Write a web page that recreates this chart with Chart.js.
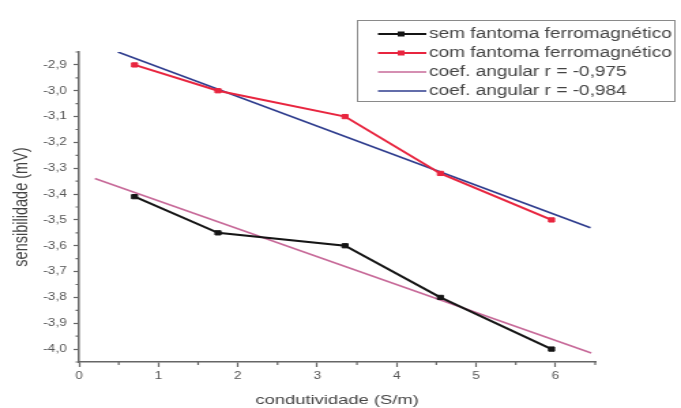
<!DOCTYPE html>
<html lang="pt">
<head>
<meta charset="utf-8">
<title>Sensibilidade x condutividade</title>
<script src="https://cdn.jsdelivr.net/npm/chart.js@4.4.0/dist/chart.umd.min.js"></script>
<style>
  html, body { margin: 0; padding: 0; background: #fff; overflow: hidden; }
  /* figure is drawn narrow and widened, like the original export */
  #wrap { width: 500px; height: 408px; transform: scaleX(1.362); transform-origin: 0 0; }
</style>
</head>
<body>
<div id="wrap"><canvas id="grafico"></canvas></div>
<script>
// condutividade dos fantomas (S/m)
const condutividade = [0.7, 1.75, 3.35, 4.55, 5.95];

// sensibilidade medida (mV)
const semFantoma = [-3.41, -3.55, -3.60, -3.80, -4.00];
const comFantoma = [-2.90, -3.00, -3.10, -3.32, -3.50];

// retas de ajuste (extremos)
const retaSemX = [0.2, 6.45];
const retaSemY = [-3.34, -4.015];
const retaComX = [0.49, 6.44];
const retaComY = [-2.85, -3.53];

const rotulos = [
    'sem fantoma ferromagnético',
    'com fantoma ferromagnético',
    'coef. angular r = -0,975',
    'coef. angular r = -0,984'
];

const xTicks = [0, 1, 2, 3, 4, 5, 6];
const xMinor = [0.5, 1.5, 2.5, 3.5, 4.5, 5.5, 6.5];
const yTicks = [-4.0, -3.9, -3.8, -3.7, -3.6, -3.5, -3.4, -3.3, -3.2, -3.1, -3.0, -2.9];
const yMinor = [-4.05, -3.95, -3.85, -3.75, -3.65, -3.55, -3.45, -3.35, -3.25, -3.15, -3.05, -2.95, -2.85];

const corEixo = '#666666';
const corTexto = '#444444';

function pontos(xs, ys) {
    return xs.map((x, i) => ({ x: x, y: ys[i] }));
}

Chart.defaults.font.family = '"Liberation Sans", Arial, sans-serif';
Chart.defaults.color = corTexto;

// minor ticks + legend box
const extras = {
    id: 'extras',
    afterDraw(chart) {
        const { ctx, chartArea, scales: { x, y } } = chart;
        ctx.save();

        ctx.strokeStyle = corEixo;
        ctx.lineWidth = 1.2;
        ctx.beginPath();
        xMinor.forEach(v => {
            const px = x.getPixelForValue(v);
            ctx.moveTo(px, chartArea.bottom);
            ctx.lineTo(px, chartArea.bottom + 3);
        });
        yMinor.forEach(v => {
            const py = y.getPixelForValue(v);
            ctx.moveTo(chartArea.left, py);
            ctx.lineTo(chartArea.left - 2.5, py);
        });
        ctx.stroke();

        // legenda
        ctx.fillStyle = '#ffffff';
        ctx.fillRect(262.5, 20.5, 233, 81);
        ctx.strokeStyle = '#8a8a8a';
        ctx.lineWidth = 1;
        ctx.strokeRect(262.5, 20.5, 233, 81);

        ctx.font = '14px "Liberation Sans", Arial, sans-serif';
        ctx.textBaseline = 'middle';
        ctx.textAlign = 'left';
        chart.data.datasets.forEach((ds, i) => {
            const ly = 34 + i * 19;
            ctx.strokeStyle = ds.borderColor;
            ctx.lineWidth = ds.borderWidth;
            ctx.beginPath();
            ctx.moveTo(277.5, ly);
            ctx.lineTo(313, ly);
            ctx.stroke();
            if (ds.pointRadius > 0) {
                ctx.fillStyle = ds.borderColor;
                ctx.fillRect(292, ly - 2.5, 5, 5);
            }
            ctx.fillStyle = corTexto;
            ctx.fillText(ds.label, 315, ly + 0.5);
        });

        ctx.restore();
    }
};

new Chart(document.getElementById('grafico'), {
    type: 'line',
    data: {
        datasets: [
            {
                label: rotulos[0],
                data: pontos(condutividade, semFantoma),
                borderColor: '#151515',
                backgroundColor: '#151515',
                borderWidth: 2,
                pointStyle: 'rect',
                pointRadius: 3,
                pointBorderWidth: 1,
                tension: 0
            },
            {
                label: rotulos[1],
                data: pontos(condutividade, comFantoma),
                borderColor: '#e8253f',
                backgroundColor: '#e8253f',
                borderWidth: 2,
                pointStyle: 'rect',
                pointRadius: 3,
                pointBorderWidth: 1,
                tension: 0
            },
            {
                label: rotulos[2],
                data: pontos(retaSemX, retaSemY),
                borderColor: '#c76a99',
                borderWidth: 1.6,
                pointRadius: 0,
                tension: 0
            },
            {
                label: rotulos[3],
                data: pontos(retaComX, retaComY),
                borderColor: '#2f3d8e',
                borderWidth: 1.6,
                pointRadius: 0,
                tension: 0
            }
        ]
    },
    options: {
        responsive: true,
        maintainAspectRatio: false,
        animation: false,
        layout: {
            padding: { top: 52, right: 63, left: 0, bottom: 0 }
        },
        plugins: {
            legend: { display: false },
            tooltip: { enabled: false }
        },
        scales: {
            x: {
                type: 'linear',
                min: 0,
                max: 6.5,
                afterBuildTicks: scale => { scale.ticks = xTicks.map(v => ({ value: v })); },
                afterFit: scale => { scale.height = 46; },
                border: { display: true, color: corEixo, width: 1.5 },
                grid: { drawOnChartArea: false, tickLength: 5, tickColor: corEixo, tickWidth: 1.2 },
                ticks: {
                    padding: 3,
                    maxRotation: 0,
                    font: { size: 10 },
                    color: '#555555',
                    callback: v => String(v)
                },
                title: {
                    display: true,
                    text: 'condutividade (S/m)',
                    font: { size: 13.5 },
                    color: corTexto,
                    padding: { top: 0, bottom: 0 }
                }
            },
            y: {
                type: 'linear',
                min: -4.05,
                max: -2.85,
                afterBuildTicks: scale => { scale.ticks = yTicks.map(v => ({ value: v })); },
                afterFit: scale => { scale.width = 58; },
                border: { display: true, color: corEixo, width: 1.5 },
                grid: { drawOnChartArea: false, tickLength: 4, tickColor: corEixo, tickWidth: 1.2 },
                ticks: {
                    padding: 5,
                    font: { size: 10 },
                    color: '#555555',
                    callback: v => v.toFixed(1).replace('.', ',')
                },
                title: {
                    display: true,
                    text: 'sensibilidade (mV)',
                    font: { size: 14.5 },
                    color: corTexto,
                    padding: { top: 7, bottom: 0 }
                }
            }
        }
    },
    plugins: [extras]
});
</script>
</body>
</html>
